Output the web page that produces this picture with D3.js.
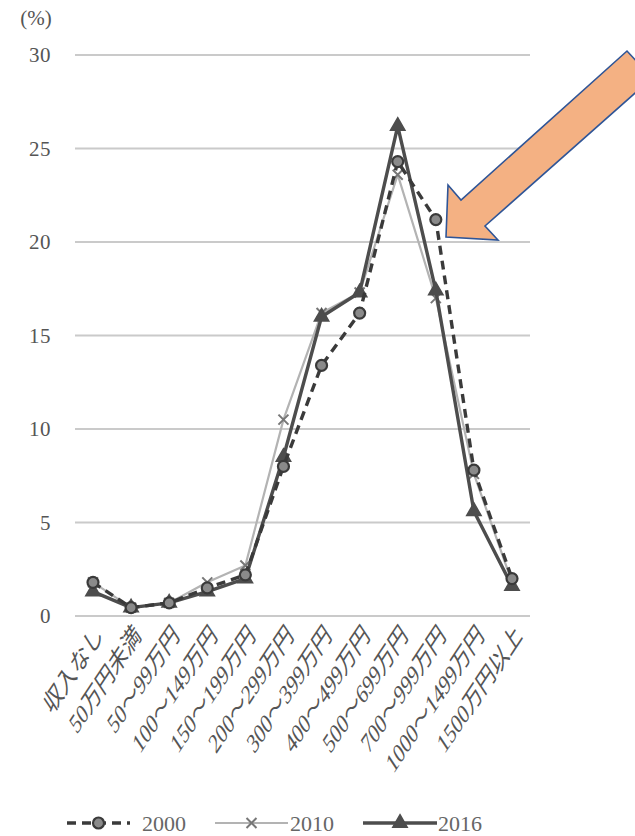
<!DOCTYPE html>
<html>
<head>
<meta charset="utf-8">
<script src="https://cdn.jsdelivr.net/npm/d3@7"></script>
<style>
  html, body { margin: 0; padding: 0; background: #fff; }
  svg { display: block; }
</style>
</head>
<body>
<svg id="chart" width="635" height="836"></svg>
<script>
// Income brackets (annual income, 万円)
const categories = [
  "収入なし", "50万円未満", "50～99万円", "100～149万円", "150～199万円",
  "200～299万円", "300～399万円", "400～499万円", "500～699万円",
  "700～999万円", "1000～1499万円", "1500万円以上"
];

// Share of households in each bracket (%)
const values2000 = [1.8, 0.45, 0.7, 1.5, 2.2, 8.0, 13.4, 16.2, 24.3, 21.2, 7.8, 2.0];
const values2010 = [1.8, 0.45, 0.7, 1.8, 2.7, 10.5, 16.2, 17.3, 23.6, 17.0, 7.6, 1.8];
const values2016 = [1.3, 0.45, 0.7, 1.3, 2.0, 8.5, 16.0, 17.3, 26.2, 17.4, 5.6, 1.6];

const yTicks = [0, 5, 10, 15, 20, 25, 30];

const serif = "'Liberation Serif', 'DejaVu Serif', 'Noto Sans CJK JP', serif";
const labelFont = "'Liberation Serif', 'Noto Sans CJK JP', serif";

const svg = d3.select("#chart");

const x = d3.scalePoint().domain(categories).range([93, 512]);
const y = d3.scaleLinear().domain([0, 30]).range([616, 55]);

// Horizontal gridlines
svg.append("g")
  .selectAll("line")
  .data(yTicks)
  .join("line")
  .attr("x1", 75).attr("x2", 530)
  .attr("y1", d => y(d)).attr("y2", d => y(d))
  .attr("stroke", "#cacaca")
  .attr("stroke-width", 2);

// Y axis labels
const yAxis = d3.axisLeft(y).tickValues(yTicks).tickSize(0).tickPadding(0);
const gy = svg.append("g").attr("transform", "translate(51,0)").call(yAxis);
gy.select(".domain").remove();
gy.selectAll("text")
  .attr("font-family", serif)
  .attr("font-size", 21)
  .attr("letter-spacing", 0.5)
  .attr("fill", "#555");

svg.append("text")
  .attr("x", 36).attr("y", 25)
  .attr("text-anchor", "middle")
  .attr("font-family", serif)
  .attr("font-size", 21)
  .attr("fill", "#555")
  .text("(%)");

// X axis category labels, slanted and drawn tall
const xAxis = d3.axisBottom(x).tickSize(0).tickPadding(0);
const gx = svg.append("g").attr("transform", "translate(0,616)").call(xAxis);
gx.select(".domain").remove();
gx.selectAll(".tick text")
  .attr("font-family", labelFont)
  .attr("font-size", 18.5)
  .attr("fill", "#555")
  .attr("text-anchor", "end")
  .attr("x", 0).attr("y", 0).attr("dy", "0.35em")
  .attr("transform", "translate(6,14) scale(1,1.5) rotate(-45)");

const line = d3.line().x((d, i) => x(categories[i])).y(d => y(d));

const series = [
  { name: "2010", values: values2010, color: "#b3b3b3", width: 2.2, dash: null, marker: "cross" },
  { name: "2016", values: values2016, color: "#4d4d4d", width: 3.4, dash: null, marker: "triangle" },
  { name: "2000", values: values2000, color: "#3a3a3a", width: 3.4, dash: "9,6", marker: "circle" }
];

function drawMarker(g, type, cx, cy, color) {
  if (type === "circle") {
    g.append("circle").attr("cx", cx).attr("cy", cy).attr("r", 5.5)
      .attr("fill", "#8a8a8a").attr("stroke", color).attr("stroke-width", 2.2);
  } else if (type === "triangle") {
    g.append("path")
      .attr("d", d3.symbol().type(d3.symbolTriangle).size(90)())
      .attr("transform", `translate(${cx},${cy})`)
      .attr("fill", color).attr("stroke", color).attr("stroke-width", 1.5);
  } else {
    const r = 5;
    g.append("path")
      .attr("d", `M${cx - r},${cy - r}L${cx + r},${cy + r}M${cx - r},${cy + r}L${cx + r},${cy - r}`)
      .attr("fill", "none").attr("stroke", "#777").attr("stroke-width", 2);
  }
}

series.forEach(s => {
  const g = svg.append("g");
  g.append("path")
    .datum(s.values)
    .attr("d", line)
    .attr("fill", "none")
    .attr("stroke", s.color)
    .attr("stroke-width", s.width)
    .attr("stroke-dasharray", s.dash)
    .attr("stroke-linejoin", "round");
  s.values.forEach((v, i) => drawMarker(g, s.marker, x(categories[i]), y(v), s.color));
});

// Legend
const legendY = 823;
const legend = [
  { s: series[2], x0: 67, x1: 130, text: 142 },
  { s: series[0], x0: 215, x1: 288, text: 290 },
  { s: series[1], x0: 363, x1: 437, text: 438 }
];
legend.forEach(l => {
  const g = svg.append("g");
  g.append("line")
    .attr("x1", l.x0).attr("x2", l.x1)
    .attr("y1", legendY).attr("y2", legendY)
    .attr("stroke", l.s.color)
    .attr("stroke-width", l.s.width)
    .attr("stroke-dasharray", l.s.dash);
  drawMarker(g, l.s.marker, (l.x0 + l.x1) / 2, legendY, l.s.color);
  g.append("text")
    .attr("x", l.text).attr("y", legendY)
    .attr("dy", "0.35em")
    .attr("font-family", serif)
    .attr("font-size", 22)
    .attr("fill", "#666")
    .text(l.s.name);
});

// Callout arrow pointing at the 700～999万円 bracket
svg.append("path")
  .attr("d", "M446,237 L448,185 L461,200 L627,51 L652,78 L485,226 L498,240 Z")
  .attr("fill", "#f4b183")
  .attr("stroke", "#2f5597")
  .attr("stroke-width", 1.6)
  .attr("stroke-linejoin", "miter");
</script>
</body>
</html>
